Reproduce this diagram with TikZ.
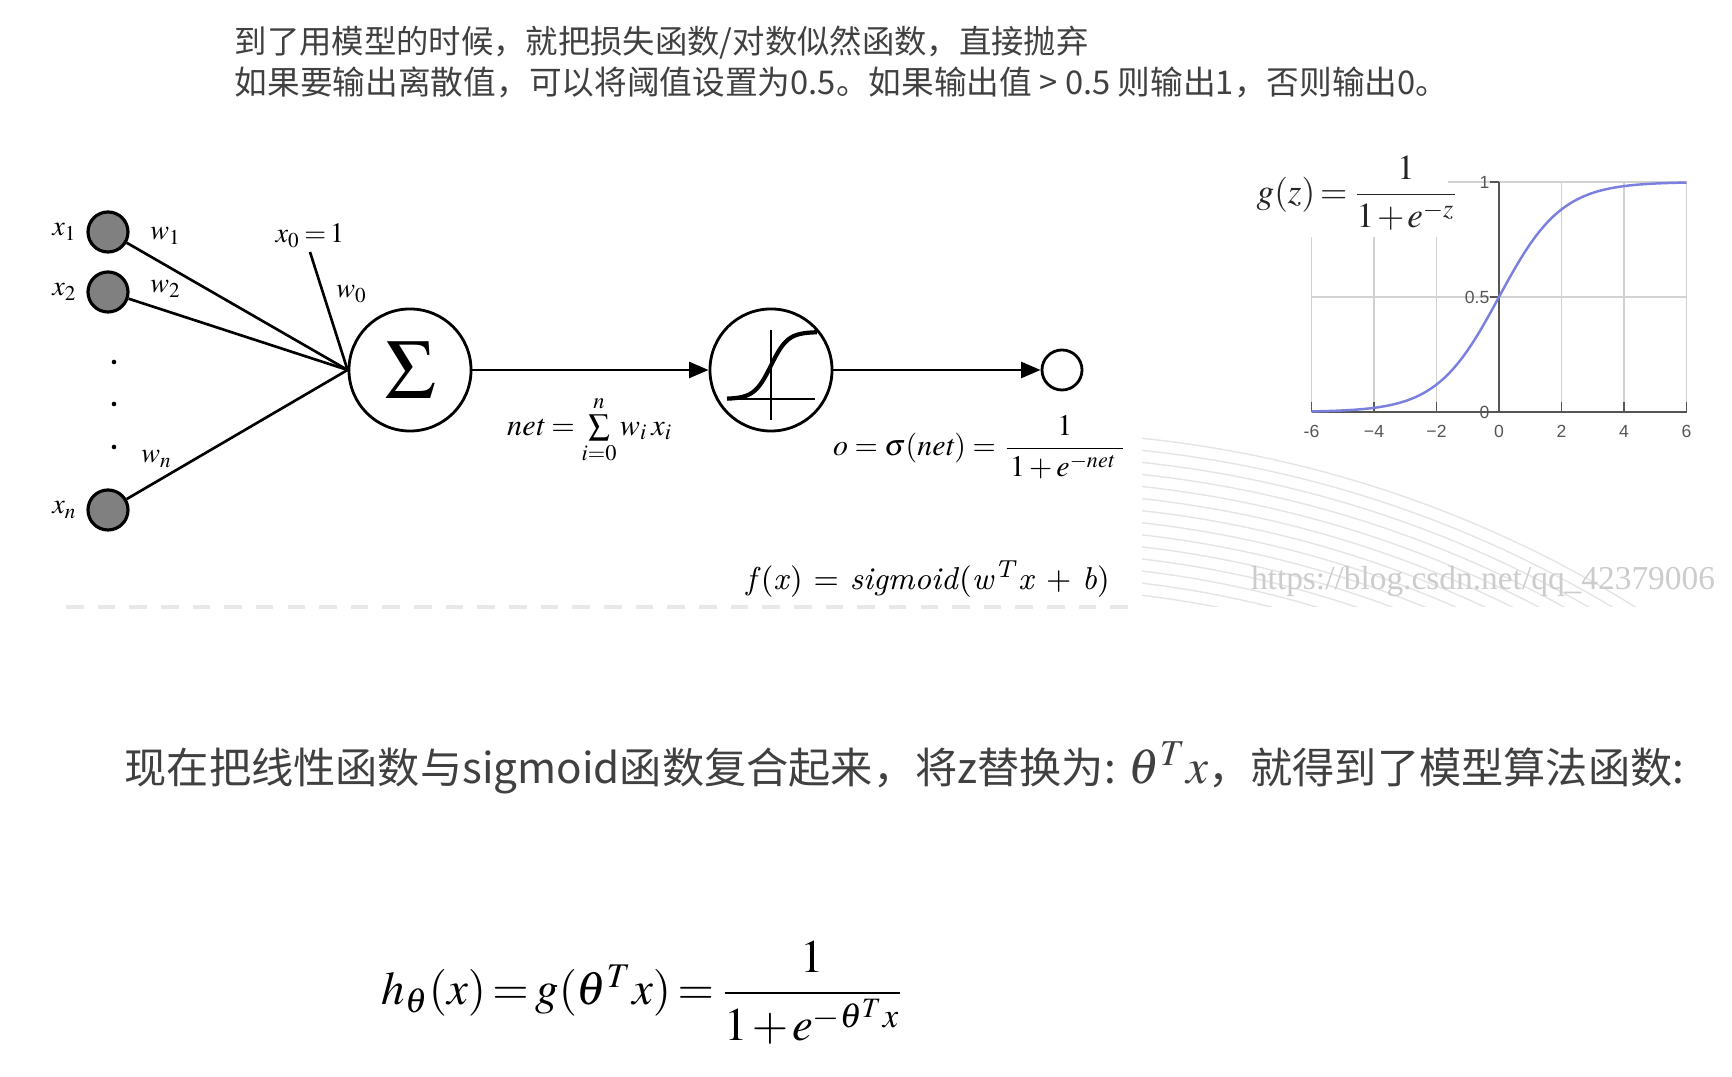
\documentclass[tikz,border=0pt]{standalone}
\usepackage{amsmath}
\usepackage{mathptmx}
\usepackage{fontspec}
\usepackage{xcolor}
\usepackage{tikz}
\usetikzlibrary{positioning,arrows,arrows.meta,calc}

\newfontfamily\cjk{Noto Sans CJK SC}
\newfontfamily\plotfont{Liberation Sans}
\newfontfamily\wmfont{Liberation Serif}

\definecolor{textgray}{HTML}{404040}
\definecolor{curveblue}{HTML}{7B80DE}
\definecolor{gridgray}{HTML}{D2D2D2}
\definecolor{axisgray}{HTML}{555555}

\newcommand{\tightmath}{\thickmuskip=2.5mu\relax\medmuskip=1.5mu\relax}

\tikzset{
    inputunit/.style={circle, draw, line width=0.9pt, fill=gray, minimum size=0.4cm, inner sep=0pt},
    bigunit/.style={circle, draw, line width=0.8pt, minimum size=1.22cm, inner sep=0pt},
    outunit/.style={circle, draw, line width=0.8pt, minimum size=0.4cm, inner sep=0pt},
    lbl/.style={font=\fontsize{8}{9}\selectfont, inner sep=1pt},
    wire/.style={line width=0.75pt},
    ticklbl/.style={font=\plotfont\fontsize{5}{6}\selectfont, text=axisgray, inner sep=0pt},
}

\begin{document}
\begin{tikzpicture}[x=0.01cm, y=-0.01cm, >={Triangle[length=5.5pt,width=4.5pt]}]
    \useasboundingbox (0,0) rectangle (1732,1077);

    % top notes
    \node[anchor=west, text=textgray, font=\cjk\fontsize{9.2}{11}\selectfont, inner sep=0pt] (note1) at (234,43) {到了用模型的时候，就把损失函数/对数似然函数，直接抛弃};
    \node[anchor=west, text=textgray, font=\cjk\fontsize{9.3}{11}\selectfont, inner sep=0pt] (note2) at (234,82) {如果要输出离散值，可以将阈值设置为0.5。如果输出值 > 0.5 则输出1，否则输出0。};

    % neuron
    \node[inputunit] (x1) at (108,232) {};
    \node[inputunit] (x2) at (108,292) {};
    \node[inputunit] (xn) at (108,510) {};
    \node[lbl, left=0.05cm of x1] (x1lbl) {$x_1$};
    \node[lbl, left=0.05cm of x2] (x2lbl) {$x_2$};
    \node[lbl, left=0.05cm of xn] (xnlbl) {$x_n$};
    \foreach \y in {362,404,447}
        \fill (114,\y) circle[radius=2.3];

    \node[bigunit, font=\fontsize{24}{24}\selectfont] (sum) at (410,370) {$\Sigma$};
    \node[bigunit] (act) at (771,370) {};
    \node[outunit] (out) at (1062,370) {};

    \coordinate (bias) at (310,252);
    \node[lbl, above=0pt of bias] (biaslbl) {\tightmath$x_0 = 1$};

    \foreach \n in {x1,x2,xn}
        \draw[wire] (\n) -- (sum.west);
    \draw[wire] (bias) -- (sum.west);

    \node[lbl] (w1) at (166,236) {$w_1$};
    \node[lbl] (w2) at (166,289) {$w_2$};
    \node[lbl] (wn) at (157,459) {$w_n$};
    \node[lbl] (w0) at (352,294) {$w_0$};

    \draw[wire,->] (sum) -- (act);
    \draw[wire,->] (act) -- (out);

    % step icon
    \draw[line width=0.7pt] ($(act)+(-44,29)$) -- ($(act)+(44,29)$);
    \draw[line width=0.7pt] ($(act)+(0,-40)$) -- ($(act)+(0,50)$);
    \draw[line width=1.2pt, shift={(act)}] plot[domain=-44:46, samples=40] (\x, {29-67/(1+exp(-0.12*\x))});

    \node[font=\fontsize{8.6}{10}\selectfont, inner sep=0pt] (netlbl) at (590,430) {$\mathit{net} = \sum\limits_{i=0}^{n} w_i\, x_i$};
    \node[font=\fontsize{8.5}{10}\selectfont, inner sep=0pt] (olbl) at (980,447) {$o = \sigma(\mathit{net}) = \dfrac{1}{\,1 + e^{\mathit{-net}}\,\,}$};
    \node[font=\fontsize{9}{10}\selectfont, inner sep=0pt] (fx) at (928,579) {\textit{f}(\textit{x}) = \textit{sigmoid}(\textit{w}\textsuperscript{\textit{T}}\textit{x} + \textit{b})};

    \draw[gray!18, line width=1pt, dash pattern=on 5pt off 4pt] (66,607) -- (1138,607);

    % faint arcs
    \begin{scope}
        \clip (1142,430) rectangle (1732,607);
        \foreach \r in {0,...,15}
            \draw[gray!20, line width=0.4pt] (1020,1600) circle[radius=1168-12*\r];
    \end{scope}
    \node[text=gray!40, font=\wmfont\fontsize{9.5}{10}\selectfont, inner sep=0pt] (wm) at (1483,582) {https://blog.csdn.net/qq\_42379006};

    % sigmoid plot
    \foreach \t in {-6,-4,-2}
        \draw[gridgray] ({1499+31.25*\t},412) -- ({1499+31.25*\t},237);
    \foreach \t in {2,4,6}
        \draw[gridgray] ({1499+31.25*\t},412) -- ({1499+31.25*\t},182);
    \draw[gridgray] (1312,297) -- (1687,297);
    \draw[gridgray] (1448,182) -- (1687,182);
    \draw[axisgray, line width=0.6pt] (1312,412) -- (1687,412);
    \draw[axisgray, line width=0.6pt] (1499,412) -- (1499,182);
    \foreach \t in {-6,-4,...,6}
        \draw[axisgray, line width=0.5pt] ({1499+31.25*\t},412) -- ({1499+31.25*\t},402);
    \foreach \y in {182,297,412}
        \draw[axisgray, line width=0.5pt] (1490,\y) -- (1499,\y);
    \foreach \t/\s in {-6/-6,-4/−4,-2/−2,0/0,2/2,4/4,6/6}
        \node[ticklbl] (xt\t) at ({1499+31.25*\t},431) {\s};
    \node[ticklbl, anchor=east] (yt1) at (1490,182) {1};
    \node[ticklbl, anchor=east] (yt5) at (1490,297) {0.5};
    \node[ticklbl, anchor=east] (yt0) at (1490,412) {0};
    \draw[curveblue, line width=0.7pt] plot[domain=-6:6, samples=80] ({1499+31.25*\x}, {412-230/(1+exp(-\x))});

    \node[font=\fontsize{10}{12}\selectfont, text=black!85, inner sep=0pt] (gz) at (1358,193) {\tightmath$g(z) = \dfrac{1}{1 + e^{-z}}$};

    % bottom
    \node[anchor=west, text=textgray, font=\cjk\fontsize{12}{14}\selectfont, inner sep=0pt] (note3) at (124,768) {现在把线性函数与sigmoid函数复合起来，将z替换为: {\fontsize{14}{14}\selectfont$\theta^T x$}，就得到了模型算法函数:};
    \node[anchor=west, font=\fontsize{13.3}{16}\selectfont, inner sep=0pt] (hx) at (381,993) {\tightmath$h_\theta(x) = g(\theta^T x) = \dfrac{1}{1 + e^{-\theta^T x}}$};
\end{tikzpicture}
\end{document}
